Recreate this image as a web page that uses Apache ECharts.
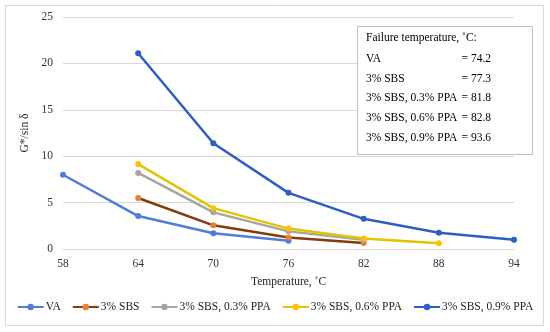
<!DOCTYPE html>
<html><head><meta charset="utf-8">
<script src="https://cdn.jsdelivr.net/npm/echarts@6/dist/echarts.min.js"></script>
<style>html,body{margin:0;padding:0;background:#fff}#c{width:550px;height:332px}</style>
</head><body><div id="c"></div>
<script>
const categories = ['58','64','70','76','82','88','94'];
const yTicks = [0,5,10,15,20,25];
const seriesNames = ['VA','3% SBS','3% SBS, 0.3% PPA','3% SBS, 0.6% PPA','3% SBS, 0.9% PPA'];
const va      = [8.0, 3.55, 1.7, 0.9, null, null, null];
const sbs     = [null, 5.5, 2.55, 1.25, 0.65, null, null];
const ppa03   = [null, 8.2, 3.95, 1.9, 1.0, null, null];
const ppa06   = [null, 9.15, 4.4, 2.2, 1.12, 0.62, null];
const ppa09   = [null, 21.1, 11.4, 6.05, 3.25, 1.75, 1.0];
const failureLabels = ['VA','3% SBS','3% SBS, 0.3% PPA','3% SBS, 0.6% PPA','3% SBS, 0.9% PPA'];
const failureValues = ['= 74.2','= 77.3','= 81.8','= 82.8','= 93.6'];

const lineColors = ['#4e7ddb','#843C0C','#A5A5A5','#E2C400','#2c5ec6'];
const markColors = ['#4e7ddb','#ED7D31','#A5A5A5','#FFC000','#2c5ec6'];
const dataSets = [va, sbs, ppa03, ppa06, ppa09];
const font = '"Liberation Serif", "Times New Roman", serif';
const fs = 11.5;

const chart = echarts.init(document.getElementById('c'));
const graphics = [
  {type:'rect', shape:{x:5.5,y:5.5,width:538,height:320}, style:{fill:'none',stroke:'#d9d9d9',lineWidth:1}, silent:true, z:-1},
  {type:'rect', shape:{x:357.5,y:26.5,width:175,height:128}, style:{fill:'#fff',stroke:'#bfbfbf',lineWidth:1}, z:10},
  {type:'text', left:366, top:32, style:{text:'Failure temperature, ˚C:', font:fs+'px '+font, fill:'#000'}, z:11}
];
failureLabels.forEach((l,i)=>{
  const y = 53 + i*19.7;
  graphics.push({type:'text', left:366, top:y, style:{text:l, font:fs+'px '+font, fill:'#000'}, z:11});
  graphics.push({type:'text', right:550-491, top:y, style:{text:failureValues[i], font:fs+'px '+font, fill:'#000', textAlign:'right'}, z:11});
});

chart.setOption({
  animation:false,
  backgroundColor:'#fff',
  grid:{left:63,right:36,top:17,bottom:83},
  xAxis:{type:'category', data:categories, boundaryGap:false,
    name:'Temperature, ˚C', nameLocation:'middle', nameGap:27,
    nameTextStyle:{fontFamily:font,fontSize:fs,color:'#222'},
    axisLine:{show:true,lineStyle:{color:'#d9d9d9'}}, axisTick:{show:false},
    axisLabel:{fontFamily:font,fontSize:fs,color:'#333',margin:9}},
  yAxis:{type:'value', min:yTicks[0], max:yTicks[yTicks.length-1], interval:5,
    name:'G*/sin δ', nameLocation:'middle', nameGap:31, nameRotate:90,
    nameTextStyle:{fontFamily:font,fontSize:fs,color:'#222'},
    axisLine:{show:false}, axisTick:{show:false},
    axisLabel:{fontFamily:font,fontSize:fs,color:'#333',margin:10},
    splitLine:{lineStyle:{color:'#d9d9d9'}}},
  legend:{bottom:14, left:'center', itemWidth:26, itemHeight:8, itemGap:11,
    textStyle:{fontFamily:font,fontSize:fs,color:'#222',padding:[0,0,0,-3]}, data:seriesNames},
  graphic:graphics,
  series: seriesNames.map((n,i)=>({
    name:n, type:'line', data:dataSets[i], connectNulls:false,
    symbol:'circle', symbolSize:6,
    lineStyle:{color:lineColors[i], width:2.5},
    itemStyle:{color:markColors[i]}
  }))
});
</script></body></html>
